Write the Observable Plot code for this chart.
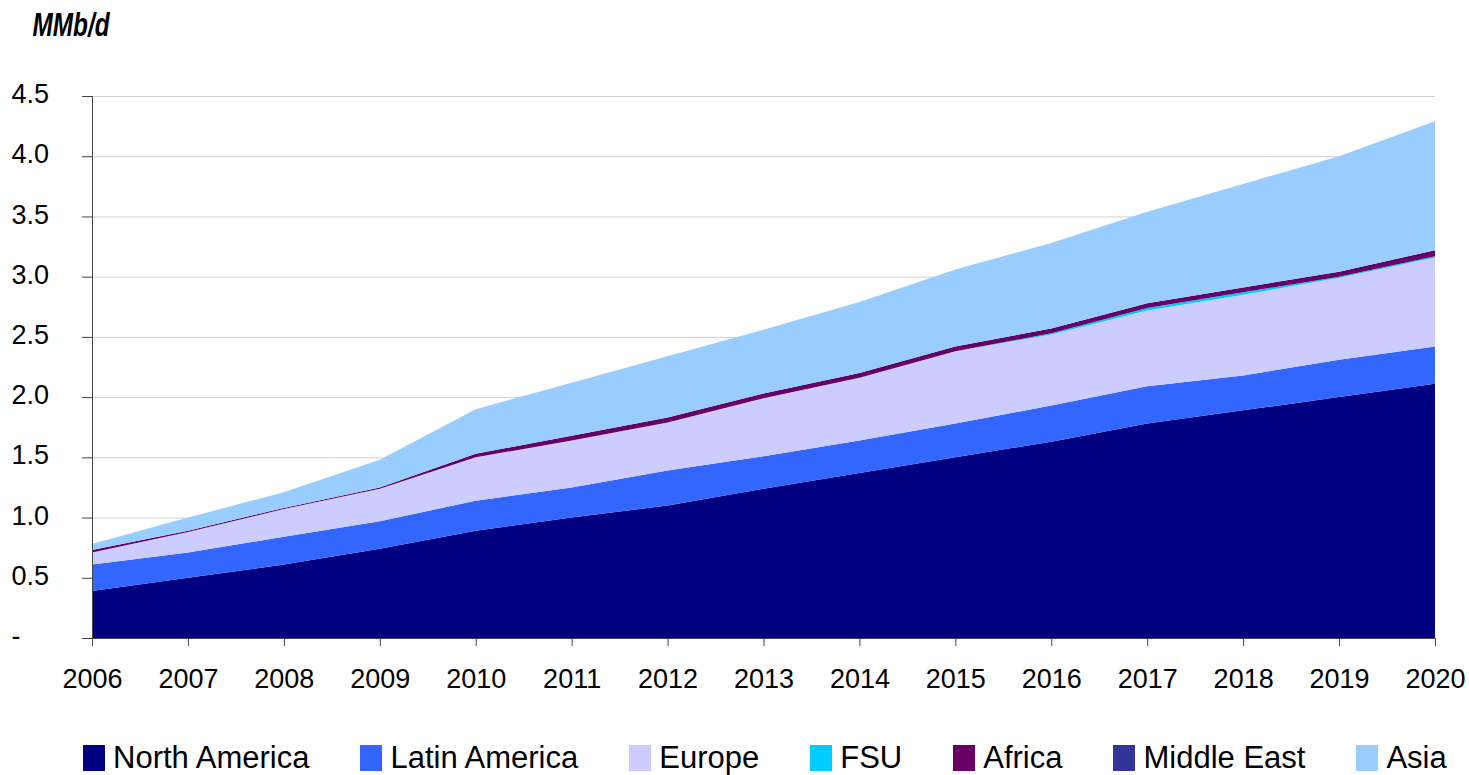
<!DOCTYPE html>
<html>
<head>
<meta charset="utf-8">
<script src="https://cdn.jsdelivr.net/npm/d3@7"></script>
<script src="https://cdn.jsdelivr.net/npm/@observablehq/plot@0.6"></script>
<style>
  html, body { margin: 0; padding: 0; background: #fff; }
  body { width: 1469px; height: 775px; overflow: hidden; font-family: "Liberation Sans", Arial, sans-serif; }
  #chart svg { display: block; }
  #legend { display: flex; align-items: center; padding-left: 83px; margin-top: 17px; height: 30px; line-height: 30px; }
  .item { display: flex; align-items: center; gap: 8px; font-size: 31px; color: #000; white-space: nowrap; margin-right: 51px; }
  .sw { width: 22px; height: 26px; display: inline-block; }
</style>
</head>
<body>
<div id="chart"></div>
<div id="legend"></div>
<script>
const years = [2006, 2007, 2008, 2009, 2010, 2011, 2012, 2013, 2014, 2015, 2016, 2017, 2018, 2019, 2020];
const regions = ["North America", "Latin America", "Europe", "FSU", "Africa", "Middle East", "Asia"];
const regionColors = ["#000080", "#3366FF", "#CCCCFF", "#00CCFF", "#660066", "#333399", "#99CCFF"];
const northAmerica = [0.39, 0.50, 0.61, 0.74, 0.89, 1.00, 1.10, 1.24, 1.37, 1.50, 1.63, 1.78, 1.89, 2.00, 2.11];
const latinAmerica = [0.22, 0.21, 0.23, 0.23, 0.25, 0.25, 0.29, 0.27, 0.27, 0.28, 0.30, 0.31, 0.29, 0.31, 0.31];
const europe       = [0.10, 0.17, 0.23, 0.27, 0.36, 0.39, 0.40, 0.48, 0.52, 0.60, 0.59, 0.63, 0.67, 0.68, 0.74];
const fsu          = [0.00, 0.00, 0.00, 0.00, 0.00, 0.00, 0.00, 0.00, 0.00, 0.00, 0.01, 0.02, 0.02, 0.01, 0.01];
const africa       = [0.02, 0.01, 0.01, 0.01, 0.03, 0.04, 0.04, 0.04, 0.04, 0.04, 0.04, 0.04, 0.04, 0.04, 0.05];
const middleEast   = [0.00, 0.00, 0.00, 0.00, 0.00, 0.00, 0.00, 0.00, 0.00, 0.00, 0.00, 0.00, 0.00, 0.00, 0.00];
const asia         = [0.05, 0.11, 0.13, 0.23, 0.37, 0.44, 0.51, 0.53, 0.59, 0.64, 0.71, 0.76, 0.86, 0.96, 1.07];
const yTicks = [0, 0.5, 1.0, 1.5, 2.0, 2.5, 3.0, 3.5, 4.0, 4.5];
const unitLabel = "MMb/d";

const seriesList = [northAmerica, latinAmerica, europe, fsu, africa, middleEast, asia];
const rows = regions.flatMap((r, i) => years.map((yr, j) => ({year: yr, region: r, value: seriesList[i][j]})));

const fontFamily = '"Liberation Sans", Arial, sans-serif';
const chart = Plot.plot({
  width: 1469,
  height: 726,
  marginLeft: 92,
  marginRight: 34,
  marginTop: 96,
  marginBottom: 88,
  style: {fontFamily, fontSize: "27px", color: "#000", background: "#fff", overflow: "visible"},
  x: {domain: [2006, 2020], label: null},
  y: {domain: [0, 4.5], label: null},
  color: {domain: regions, range: regionColors},
  marks: [
    Plot.gridY(yTicks.filter(d => d > 0), {stroke: "#d0d0d0", strokeOpacity: 1}),
    Plot.areaY(rows, {x: "year", y: "value", z: "region", fill: "region", order: null}),
    Plot.ruleX([2006], {stroke: "#444"}),
    Plot.ruleY([0], {stroke: "#444"}),
    Plot.axisY(yTicks, {tickSize: 10, stroke: "#444", text: null, label: null}),
    Plot.text(yTicks, {y: d => d, text: d => d === 0 ? "-" : d.toFixed(1), frameAnchor: "left", textAnchor: "start", dx: -81, dy: -2, fontSize: 27, fill: "#000"}),
    Plot.axisX(years, {tickSize: 8, tickPadding: 22, stroke: "#444", tickFormat: d => String(d), fontSize: 27, label: null, fill: "#000"}),
    Plot.text([unitLabel], {frameAnchor: "top-left", textAnchor: "start", lineAnchor: "top", dx: -60, dy: -84, text: d => d, fontSize: 33, fontWeight: "bold", fontStyle: "italic", fontFamily, fill: "#000"})
  ]
});
document.getElementById("chart").appendChild(chart);
// condense the unit label like the original
d3.select(chart).selectAll("text").filter(function() { return this.textContent === unitLabel; })
  .attr("textLength", 77).attr("lengthAdjust", "spacingAndGlyphs");

const legend = document.getElementById("legend");
regions.forEach((r, i) => {
  const item = document.createElement("div");
  item.className = "item";
  const sw = document.createElement("span");
  sw.className = "sw";
  sw.style.background = regionColors[i];
  const label = document.createElement("span");
  label.textContent = r;
  item.appendChild(sw);
  item.appendChild(label);
  legend.appendChild(item);
});
</script>
</body>
</html>
